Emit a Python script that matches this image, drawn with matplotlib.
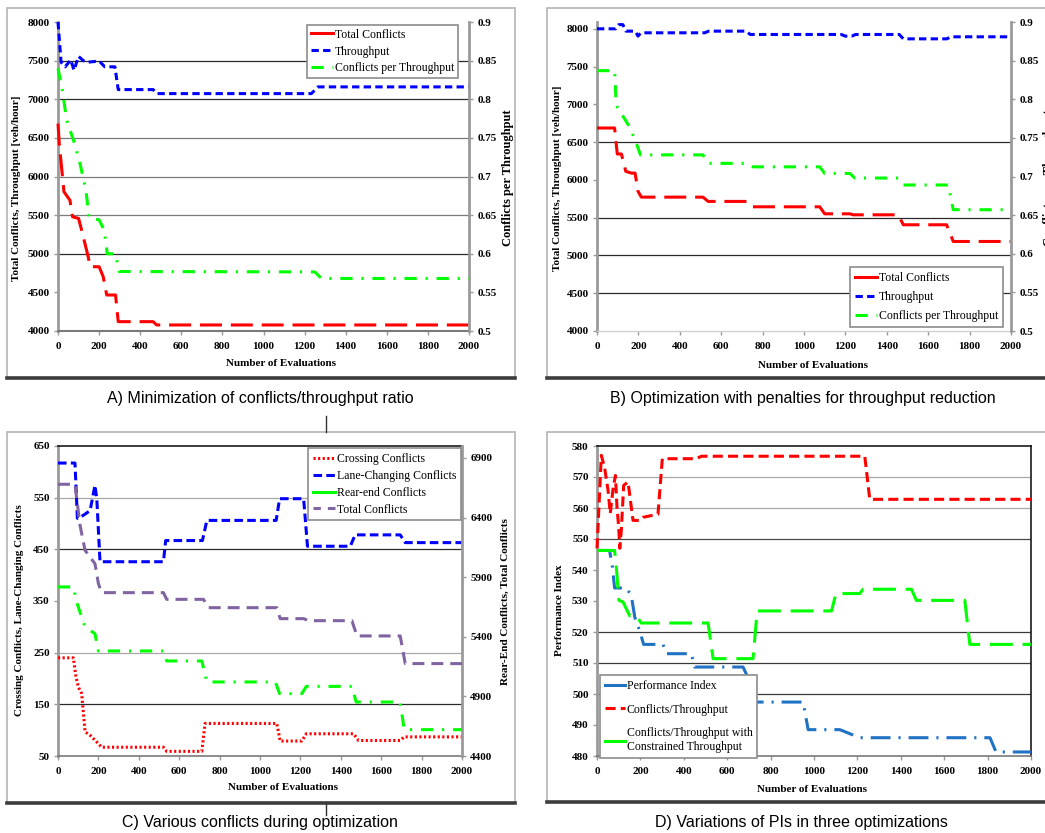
import matplotlib

matplotlib.use("Agg")
import matplotlib.pyplot as plt
from matplotlib.lines import Line2D
from matplotlib.patches import Rectangle
from matplotlib.ticker import FuncFormatter

W, H = 1045, 833
SERIF = "Liberation Serif"
SANS = "Liberation Sans"

EVAL_TICKS = list(range(0, 2001, 200))

# ---------------------------------------------------------------------------
# A) Minimization of conflicts/throughput ratio
# ---------------------------------------------------------------------------
A_THR_X = [0, 15, 35, 62, 78, 100, 123, 147, 200, 228, 277, 293, 463, 480, 1233, 1265, 2000]
A_THR_Y = [8000, 7480, 7420, 7510, 7375, 7555, 7500, 7480, 7495, 7420, 7420, 7125, 7125,
           7073, 7073, 7160, 7160]
A_TOT_X = [0, 6, 29, 58, 71, 100, 115, 147, 156, 200, 220, 237, 280, 293, 463, 480, 2000]
A_TOT_Y = [6685, 6427, 5802, 5694, 5478, 5457, 5306, 4961, 4832, 4832, 4703, 4466, 4466,
           4121, 4121, 4078, 4078]
A_CPT_X = [0, 21, 42, 78, 107, 136, 152, 200, 224, 240, 280, 297, 1250, 1282, 2000]
A_CPT_Y = [0.840, 0.8125, 0.773, 0.745, 0.717, 0.682, 0.646, 0.644, 0.631, 0.600, 0.600,
           0.577, 0.5765, 0.568, 0.568]

# ---------------------------------------------------------------------------
# B) Optimization with penalties for throughput reduction
# ---------------------------------------------------------------------------
B_THR_X = [0, 90, 105, 125, 140, 185, 198, 212, 520, 540, 720, 740, 1180, 1200, 1230,
           1250, 1460, 1480, 1690, 1710, 2000]
B_THR_Y = [8000, 8000, 8055, 8055, 7969, 7969, 7903, 7947, 7947, 7969, 7969, 7925, 7925,
           7903, 7903, 7925, 7925, 7867, 7867, 7894, 7894]
B_TOT_X = [0, 85, 98, 118, 139, 166, 184, 198, 214, 512, 537, 722, 746, 1076, 1100, 1222,
           1238, 1455, 1480, 1689, 1721, 2000]
B_TOT_Y = [6687, 6687, 6343, 6343, 6113, 6090, 6090, 5850, 5772, 5772, 5715, 5715, 5644,
           5644, 5551, 5551, 5538, 5538, 5406, 5406, 5185, 5185]
B_CPT_X = [0, 85, 93, 158, 190, 210, 512, 537, 722, 754, 1076, 1100, 1222, 1245, 1455,
           1480, 1697, 1721, 2000]
B_CPT_Y = [0.837, 0.837, 0.792, 0.764, 0.743, 0.728, 0.728, 0.717, 0.717, 0.7125, 0.7125,
           0.704, 0.704, 0.698, 0.698, 0.689, 0.689, 0.657, 0.657]

# ---------------------------------------------------------------------------
# C) Various conflicts during optimization
# ---------------------------------------------------------------------------
C_CROSS_X = [0, 76, 89, 101, 117, 134, 159, 192, 216, 522, 538, 712, 728, 1083, 1100,
             1207, 1229, 1463, 1488, 1694, 1714, 2000]
C_CROSS_Y = [240, 240, 203, 183, 171, 97, 90, 77, 67, 67, 59, 59, 113, 113, 79, 79, 93,
             93, 80, 80, 87, 87]
C_LANE_X = [0, 84, 96, 126, 159, 183, 192, 208, 522, 533, 715, 737, 1080, 1097, 1216,
            1235, 1447, 1471, 1694, 1719, 2000]
C_LANE_Y = [617, 617, 510, 516, 525, 574, 548, 426, 426, 467, 467, 506, 506, 548, 548,
            456, 456, 478, 478, 463, 463]
C_REAR_X = [0, 76, 92, 134, 183, 200, 522, 538, 712, 737, 1076, 1097, 1207, 1229, 1455,
            1476, 1694, 1714, 2000]
C_REAR_Y = [5818, 5818, 5692, 5482, 5426, 5281, 5281, 5197, 5197, 5021, 5021, 4923, 4923,
            4984, 4984, 4853, 4853, 4621, 4621]
C_TOT_X = [0, 84, 109, 134, 183, 200, 216, 522, 538, 720, 745, 1083, 1100, 1216, 1240,
           1455, 1480, 1694, 1719, 2000]
C_TOT_Y = [6679, 6679, 6335, 6125, 6013, 5846, 5770, 5770, 5714, 5714, 5644, 5644, 5552,
           5552, 5535, 5535, 5407, 5407, 5175, 5175]

# ---------------------------------------------------------------------------
# D) Variations of PIs in three optimizations
# ---------------------------------------------------------------------------
D_PI_X = [0, 58, 71, 81, 135, 158, 174, 197, 215, 304, 320, 435, 450, 673, 689, 720, 950,
          973, 1119, 1211, 1811, 1839, 2000]
D_PI_Y = [546.3, 546.3, 541, 534.2, 534.2, 531.8, 524.8, 520.3, 516, 516, 513, 513, 508.7,
          508.7, 506.3, 497.4, 497.4, 488.5, 488.5, 485.9, 485.9, 481.3, 481.3]
D_CT_X = [0, 20, 35, 51, 61, 74, 85, 92, 100, 105, 112, 123, 143, 166, 197, 212, 281, 301,
          458, 481, 1234, 1257, 2000]
D_CT_Y = [547, 577, 573, 565.7, 558.2, 566.2, 570.5, 560.3, 553.9, 547, 552.8, 567.3,
          568.4, 556, 556, 557, 558, 575.9, 575.9, 576.7, 576.7, 562.8, 562.8]
D_CCT_X = [0, 81, 89, 101, 120, 135, 151, 181, 204, 512, 535, 719, 738, 1081, 1101, 1211,
           1226, 1449, 1472, 1695, 1718, 2000]
D_CCT_Y = [546.3, 546.3, 541, 530.2, 529.7, 527.5, 525.2, 525.2, 522.9, 522.9, 511.4, 511.4,
           526.8, 526.8, 532.4, 532.4, 533.8, 533.8, 530.2, 530.2, 516, 516]

RED, BLUE, GREEN, PURPLE, STEEL = "#ff0000", "#0000ff", "#00ff00", "#8064a2", "#1f72c4"
AXIS_GRAY = "#9a9a9a"
DARK = "#2a2a2a"
LIGHT = "#a8a8a8"

LW = 2.2
LONG_DASH = (0, (7.2, 2.9))
SHORT_DASH = (0, (2.4, 1.4))
DASH_DOT = (0, (4.0, 2.9, 0.7, 2.9))
DOTTED = (0, (0.7, 0.8))
MID_DASH = (0, (3.9, 2.3))

TICK_FONT = dict(family=SERIF, weight="bold", size=8)
LABEL_FONT = dict(family=SERIF, weight="bold", size=8)
LEGEND_FONT = dict(family=SERIF, size=8.5)

fig = plt.figure(figsize=(W / 100, H / 100), dpi=100)
fig.patch.set_facecolor("white")


def fx(x):
    return x / W


def fy(y):
    return 1 - y / H


def add_axes_px(left, top, right, bottom):
    ax = fig.add_axes([fx(left), fy(bottom), (right - left) / W, (bottom - top) / H])
    ax.patch.set_alpha(0)
    return ax


def draw_frame(left, top, right, bottom):
    fig.patches.append(Rectangle((fx(left), fy(bottom)), (right - left) / W, (bottom - top) / H,
                                 transform=fig.transFigure, facecolor="white",
                                 edgecolor="#b4b4b4", linewidth=1.2, zorder=-10))
    fig.lines.append(Line2D([fx(left), fx(right)], [fy(bottom), fy(bottom)],
                            transform=fig.transFigure, color="#3c3c3c", linewidth=2.6,
                            zorder=-9))


def setup_axes(ax, spines):
    for side in ("left", "right", "top", "bottom"):
        color, width = spines.get(side, (None, 0))
        if color is None:
            ax.spines[side].set_visible(False)
        else:
            ax.spines[side].set_color(color)
            ax.spines[side].set_linewidth(width)
    ax.set_xlim(0, 2000)
    ax.set_xticks(EVAL_TICKS)
    ax.tick_params(axis="both", direction="out", length=3, width=1, color=AXIS_GRAY,
                   pad=3)
    ax.tick_params(axis="x", pad=5)
    for lab in ax.get_xticklabels() + ax.get_yticklabels():
        lab.set(**TICK_FONT)


def grid_levels(ax, levels):
    for level, color in levels:
        ax.axhline(level, color=color, linewidth=0.9, zorder=0.5)


def style_right(ax2, ticks, lim, fmt=None):
    ax2.set_ylim(*lim)
    ax2.set_yticks(ticks)
    if fmt:
        ax2.yaxis.set_major_formatter(FuncFormatter(fmt))
    ax2.tick_params(axis="y", direction="out", length=3, width=1, color=AXIS_GRAY, pad=3)
    for lab in ax2.get_yticklabels():
        lab.set(**TICK_FONT)
    for side in ("left", "top", "bottom"):
        ax2.spines[side].set_visible(False)
    ax2.spines["right"].set_color(AXIS_GRAY)
    ax2.spines["right"].set_linewidth(2)


def add_legend(ax, handles, labels, left, top, **kw):
    opts = dict(handlelength=1.9, handletextpad=0.15, labelspacing=0.42, borderpad=0.4)
    opts.update(kw)
    leg = ax.legend(handles, labels, loc="upper left",
                    bbox_to_anchor=(fx(left), fy(top)), bbox_transform=fig.transFigure,
                    frameon=True, fancybox=False, framealpha=1, edgecolor="#8c8c8c",
                    borderaxespad=0, prop=LEGEND_FONT, **opts)
    leg.get_frame().set_linewidth(1.2)
    leg.set_zorder(20)
    return leg


def g(v, _pos):
    return f"{v:g}"


# ---- panel frames, captions and separators ----
draw_frame(7, 8, 515, 378)
draw_frame(547, 8, 1060, 378)
draw_frame(7, 432, 515, 803)
draw_frame(547, 432, 1060, 802)
for y0, y1 in ((416, 432), (803, 815)):
    fig.lines.append(Line2D([fx(326), fx(326)], [fy(y0), fy(y1)], transform=fig.transFigure,
                            color="#333333", linewidth=1))

captions = [
    (260, 398, "A) Minimization of conflicts/throughput ratio"),
    (803, 398, "B) Optimization with penalties for throughput reduction"),
    (260, 822, "C) Various conflicts during optimization"),
    (801, 822, "D) Variations of PIs in three optimizations"),
]
for x, y, text in captions:
    fig.text(fx(x), fy(y), text, ha="center", va="center", family=SANS, size=11.5)

# ---- A ----
axA = add_axes_px(58, 22, 469, 331)
axA.set_ylim(4000, 8000)
axA.set_yticks(range(4000, 8001, 500))
setup_axes(axA, {"left": (AXIS_GRAY, 2), "bottom": ("#7a7a7a", 1.5)})
grid_levels(axA, [(7500, DARK), (7000, DARK), (6500, "#7a7a7a"), (6000, "#7a7a7a"),
                  (5500, "#7a7a7a"), (5000, DARK)])
axA.plot(A_TOT_X, A_TOT_Y, color=RED, lw=LW, ls=LONG_DASH, clip_on=False, zorder=3)
axA.plot(A_THR_X, A_THR_Y, color=BLUE, lw=LW, ls=SHORT_DASH, clip_on=False, zorder=3)
axA2 = axA.twinx()
style_right(axA2, [0.5, 0.55, 0.6, 0.65, 0.7, 0.75, 0.8, 0.85, 0.9], (0.5, 0.9), g)
axA2.plot(A_CPT_X, A_CPT_Y, color=GREEN, lw=LW, ls=DASH_DOT, clip_on=False, zorder=3)
add_legend(axA2,
           [Line2D([], [], color=RED, lw=LW), Line2D([], [], color=BLUE, lw=LW, ls=SHORT_DASH),
            Line2D([], [], color=GREEN, lw=LW, ls=DASH_DOT)],
           ["Total Conflicts", "Throughput", "Conflicts per Throughput"], 307, 25,
           borderpad=0.3)
fig.text(fx(17), fy(188), "Total Conflicts, Throughput [veh/hour]", rotation=90,
         ha="center", va="center", **LABEL_FONT)
fig.text(fx(508), fy(178), "Conflicts per Throughput", rotation=90, ha="center",
         va="center", family=SERIF, weight="bold", size=9)
fig.text(fx(281), fy(363), "Number of Evaluations", ha="center", va="center", **LABEL_FONT)

# ---- B ----
axB = add_axes_px(597, 22, 1011, 331)
axB.set_ylim(4000, 8090)
axB.set_yticks(range(4000, 8001, 500))
setup_axes(axB, {"left": (AXIS_GRAY, 2), "bottom": ("#d0d0d0", 1)})
grid_levels(axB, [(6500, DARK), (5500, DARK), (5000, DARK), (4500, DARK)])
axB.plot(B_TOT_X, B_TOT_Y, color=RED, lw=LW, ls=LONG_DASH, clip_on=False, zorder=3)
axB.plot(B_THR_X, B_THR_Y, color=BLUE, lw=LW, ls=SHORT_DASH, clip_on=False, zorder=3)
axB2 = axB.twinx()
style_right(axB2, [0.5, 0.55, 0.6, 0.65, 0.7, 0.75, 0.8, 0.85, 0.9], (0.5, 0.9), g)
axB2.plot(B_CPT_X, B_CPT_Y, color=GREEN, lw=LW, ls=DASH_DOT, clip_on=False, zorder=3)
add_legend(axB2,
           [Line2D([], [], color=RED, lw=LW), Line2D([], [], color=BLUE, lw=LW, ls=SHORT_DASH),
            Line2D([], [], color=GREEN, lw=LW, ls=DASH_DOT)],
           ["Total Conflicts", "Throughput", "Conflicts per Throughput"], 850, 267,
           labelspacing=0.62)
fig.text(fx(557), fy(178), "Total Conflicts, Throughput [veh/hour]", rotation=90,
         ha="center", va="center", **LABEL_FONT)
# the right-hand title of this panel runs past the edge of the page
fig.text(fx(1049), fy(178), "Conflicts per Throughput", rotation=90, ha="center",
         va="center", family=SERIF, weight="bold", size=9)
fig.text(fx(813), fy(365), "Number of Evaluations", ha="center", va="center", **LABEL_FONT)

# ---- C ----
axC = add_axes_px(58, 446, 462, 756)
axC.set_ylim(50, 650)
axC.set_yticks(range(50, 651, 100))
setup_axes(axC, {"left": (AXIS_GRAY, 2), "top": ("#1a1a1a", 1.2), "bottom": ("#7a7a7a", 1.2)})
grid_levels(axC, [(550, LIGHT), (450, DARK), (250, LIGHT), (150, DARK)])
axC.plot(C_CROSS_X, C_CROSS_Y, color=RED, lw=LW, ls=DOTTED, clip_on=False, zorder=3)
axC.plot(C_LANE_X, C_LANE_Y, color=BLUE, lw=LW, ls=(0, (2.8, 1.4)), clip_on=False, zorder=3)
axC2 = axC.twinx()
style_right(axC2, range(4400, 6901, 500), (4400, 7000))
axC2.plot(C_REAR_X, C_REAR_Y, color=GREEN, lw=LW, ls=DASH_DOT, clip_on=False, zorder=3)
axC2.plot(C_TOT_X, C_TOT_Y, color=PURPLE, lw=LW, ls=MID_DASH, clip_on=False, zorder=3)
add_legend(axC2,
           [Line2D([], [], color=RED, lw=LW, ls=DOTTED),
            Line2D([], [], color=BLUE, lw=LW, ls=(0, (2.8, 1.4))),
            Line2D([], [], color=GREEN, lw=LW),
            Line2D([], [], color=PURPLE, lw=LW, ls=(1.5, (3.9, 2.3)))],
           ["Crossing Conflicts", "Lane-Changing Conflicts", "Rear-end Conflicts",
            "Total Conflicts"], 308, 448, labelspacing=0.42)
fig.text(fx(20), fy(610), "Crossing Conflicts, Lane-Changing Conflicts", rotation=90,
         ha="center", va="center", **LABEL_FONT)
fig.text(fx(505), fy(602), "Rear-End Conflicts, Total Conflicts", rotation=90,
         ha="center", va="center", **LABEL_FONT)
fig.text(fx(283), fy(788), "Number of Evaluations", ha="center", va="center", **LABEL_FONT)

# ---- D ----
axD = add_axes_px(597, 446, 1031, 756)
axD.set_ylim(480, 580)
axD.set_yticks(range(480, 581, 10))
setup_axes(axD, {"left": (AXIS_GRAY, 2), "top": ("#1a1a1a", 1.2),
                 "right": ("#1a1a1a", 1.2), "bottom": ("#7a7a7a", 1.2)})
grid_levels(axD, [(570, LIGHT), (560, LIGHT), (550, "#4a4a4a"), (520, "#3a3a3a"),
                  (510, "#3a3a3a"), (500, "#3a3a3a")])
axD.plot(D_PI_X, D_PI_Y, color=STEEL, lw=LW, ls=(0, (6.5, 2.6, 0.7, 2.6)), clip_on=False,
         zorder=3)
axD.plot(D_CCT_X, D_CCT_Y, color=GREEN, lw=LW, ls=(0, (7.5, 3.2)), clip_on=False, zorder=3)
axD.plot(D_CT_X, D_CT_Y, color=RED, lw=LW, ls=(0, (3.3, 1.7)), clip_on=False, zorder=3)
add_legend(axD,
           [Line2D([], [], color=STEEL, lw=LW),
            Line2D([], [], color=RED, lw=LW, ls=(0, (3.3, 1.7))),
            Line2D([], [], color=GREEN, lw=LW)],
           ["Performance Index", "Conflicts/Throughput",
            "Conflicts/Throughput with\nConstrained Throughput"], 600, 675,
           labelspacing=1.0, handlelength=1.7)
fig.text(fx(560), fy(610), "Performance Index", rotation=90, ha="center", va="center",
         **LABEL_FONT)
fig.text(fx(812), fy(790), "Number of Evaluations", ha="center", va="center", **LABEL_FONT)

fig.savefig("out.png", dpi=100)
